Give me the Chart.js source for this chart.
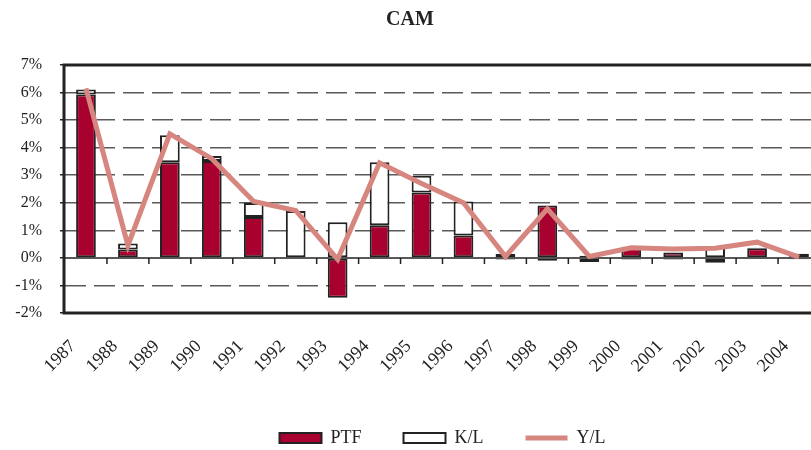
<!DOCTYPE html>
<html>
<head>
<meta charset="utf-8">
<title>CAM</title>
<script src="https://cdn.jsdelivr.net/npm/chart.js@4.4.1/dist/chart.umd.min.js"></script>
<style>
  html, body { margin: 0; padding: 0; background: #fff; overflow: hidden; }
  #wrap { position: relative; width: 830px; height: 462px; }
</style>
</head>
<body>
<div id="wrap"><canvas id="camChart"></canvas></div>
<script>
// Values, in percent
const years = ["1987", "1988", "1989", "1990", "1991", "1992", "1993", "1994", "1995",
               "1996", "1997", "1998", "1999", "2000", "2001", "2002", "2003", "2004"];
const ptf = [5.93, 0.30, 3.47, 3.52, 1.48, 0.00, -1.45, 1.18, 2.37,
             0.81, 0.14, 1.90, -0.15, 0.40, 0.20, -0.18, 0.35, 0.15];
const kl  = [0.18, 0.22, 0.98, 0.18, 0.51, 1.70, 1.29, 2.29, 0.61,
             1.24, -0.06, -0.10, 0.08, -0.06, -0.06, 0.42, 0.02, -0.05];
const yl  = [6.15, 0.45, 4.50, 3.60, 2.05, 1.72, -0.05, 3.45, 2.70,
             2.00, 0.05, 1.78, 0.05, 0.37, 0.32, 0.35, 0.57, 0.03];
const yTicks = [-2, -1, 0, 1, 2, 3, 4, 5, 6, 7];

const SERIF = "'Liberation Serif', 'DejaVu Serif', serif";
const INK = "#222";

// zero line with small ticks between categories, plus the heavy frame
const framePlugin = {
    id: "frame",
    beforeDatasetsDraw(chart) {
        const { ctx, chartArea: a, scales: { x, y } } = chart;
        const y0 = y.getPixelForValue(0);
        const half = (x.getPixelForValue(1) - x.getPixelForValue(0)) / 2;
        ctx.save();
        ctx.strokeStyle = INK;
        ctx.lineWidth = 1.5;
        ctx.beginPath();
        ctx.moveTo(a.left, y0);
        ctx.lineTo(a.right, y0);
        for (let i = 0; i < years.length - 1; i++) {
            const px = x.getPixelForValue(i) + half;
            ctx.moveTo(px, y0);
            ctx.lineTo(px, y0 + 6);
        }
        ctx.stroke();
        ctx.restore();
    },
    afterDatasetsDraw(chart) {
        const { ctx, chartArea: a } = chart;
        ctx.save();
        ctx.strokeStyle = INK;
        ctx.lineWidth = 3;
        ctx.strokeRect(a.left - 1, a.top, a.right - a.left + 1, a.bottom - a.top);
        ctx.restore();
    }
};

new Chart(document.getElementById("camChart"), {
    data: {
        labels: years,
        datasets: [
            {
                type: "bar",
                label: "PTF",
                data: ptf,
                backgroundColor: "#a8002f",
                borderColor: INK,
                borderWidth: 2,
                borderSkipped: false,
                pointStyle: "rect",
                stack: "s",
                order: 1
            },
            {
                type: "bar",
                label: "K/L",
                data: kl,
                backgroundColor: "#ffffff",
                borderColor: INK,
                borderWidth: 2,
                borderSkipped: false,
                pointStyle: "rect",
                stack: "s",
                order: 2
            },
            {
                type: "line",
                label: "Y/L",
                data: yl,
                borderColor: "#d6857f",
                backgroundColor: "#d6857f",
                borderWidth: 5,
                pointRadius: 0,
                pointStyle: "line",
                tension: 0,
                order: 0
            }
        ]
    },
    options: {
        responsive: true,
        maintainAspectRatio: false,
        animation: false,
        devicePixelRatio: 1,
        datasets: {
            bar: { categoryPercentage: 1, barPercentage: 0.47 }
        },
        layout: { padding: { left: 0, right: 10, top: 0, bottom: 5 } },
        plugins: {
            title: {
                display: true,
                text: "CAM",
                color: INK,
                font: { family: SERIF, size: 20, weight: "bold" },
                padding: { top: 8, bottom: 33 }
            },
            legend: {
                position: "bottom",
                fullSize: false,
                labels: {
                    usePointStyle: true,
                    pointStyleWidth: 42,
                    boxHeight: 10,
                    padding: 42,
                    color: INK,
                    font: { family: SERIF, size: 18 },
                    sort: (a, b) => a.datasetIndex - b.datasetIndex
                }
            },
            tooltip: { enabled: false }
        },
        scales: {
            x: {
                stacked: true,
                grid: { display: false },
                border: { display: false },
                ticks: {
                    color: INK,
                    font: { family: SERIF, size: 18 },
                    minRotation: 45,
                    maxRotation: 45,
                    padding: 15,
                    labelOffset: -13
                },
                afterFit(scale) { scale.height = 74; }
            },
            y: {
                stacked: true,
                min: -2,
                max: 7,
                afterBuildTicks(scale) { scale.ticks = yTicks.map(v => ({ value: v })); },
                afterFit(scale) { scale.width = 65; },
                border: { display: false, dash: [21, 8] },
                grid: {
                    color: c => (c.tick && [7, 0, -2].includes(c.tick.value)) ? "rgba(0,0,0,0)" : "#5a5a5a",
                    lineWidth: 1.5,
                    drawTicks: true,
                    tickLength: 5,
                    tickColor: INK,
                    tickWidth: 1.5
                },
                ticks: {
                    color: INK,
                    padding: 18,
                    font: { family: SERIF, size: 16 },
                    callback: v => v + "%"
                }
            }
        }
    },
    plugins: [framePlugin]
});
</script>
</body>
</html>
